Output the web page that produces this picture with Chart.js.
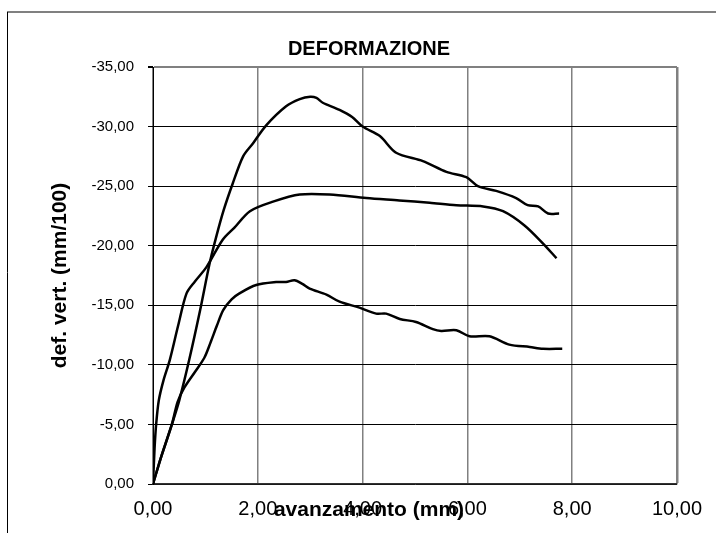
<!DOCTYPE html>
<html>
<head>
<meta charset="utf-8">
<title>DEFORMAZIONE</title>
<script src="https://cdn.jsdelivr.net/npm/chart.js@4.4.0/dist/chart.umd.min.js"></script>
<style>
    html, body { margin: 0; padding: 0; background: #fff; }
    #wrap { width: 716px; height: 533px; }
</style>
</head>
<body>
<div id="wrap"><canvas id="deformChart" width="716" height="533"></canvas></div>
<script>
// --- DATA ---
const X_TICKS = [0, 2, 4, 6, 8, 10];
const Y_TICKS = [0, -5, -10, -15, -20, -25, -30, -35];

// upper curve (peak about -32,5)
const xUpper = [0, 0.15, 0.36, 0.5, 0.69, 0.9, 1.08, 1.21, 1.35, 1.52, 1.72, 1.91, 2.16, 2.54, 2.8, 3.0, 3.12, 3.24, 3.56, 3.8, 4.0, 4.33, 4.64, 5.15, 5.6, 5.98, 6.2, 6.55, 6.93, 7.15, 7.35, 7.54, 7.75];
const yUpper = [0, -2.2, -5, -7, -10.4, -14.6, -18.5, -20.8, -23, -25.2, -27.5, -28.6, -30.1, -31.7, -32.3, -32.5, -32.4, -32.0, -31.4, -30.8, -30.0, -29.2, -27.8, -27.1, -26.2, -25.75, -25.0, -24.6, -24.0, -23.4, -23.3, -22.7, -22.7];

// middle curve (plateau about -24)
const xMiddle = [0, 0.03, 0.06, 0.11, 0.2, 0.32, 0.48, 0.64, 0.8, 1.02, 1.33, 1.55, 1.85, 2.29, 2.8, 3.37, 4.07, 4.7, 5.28, 5.79, 6.3, 6.68, 7.09, 7.44, 7.7];
const yMiddle = [0, -3, -5, -7, -8.7, -10.4, -13.3, -16, -17.0, -18.2, -20.5, -21.5, -22.9, -23.7, -24.3, -24.3, -24.0, -23.8, -23.6, -23.4, -23.3, -22.9, -21.7, -20.2, -18.95];

// lower curve (peak about -17)
const xLower = [0, 0.15, 0.36, 0.47, 0.6, 0.8, 0.98, 1.1, 1.22, 1.34, 1.5, 1.65, 1.97, 2.35, 2.54, 2.7, 2.85, 2.99, 3.31, 3.56, 3.94, 4.26, 4.45, 4.71, 5.02, 5.34, 5.5, 5.79, 6.04, 6.42, 6.8, 7.19, 7.44, 7.81];
const yLower = [0, -2.2, -5, -6.9, -8.1, -9.4, -10.6, -11.9, -13.3, -14.6, -15.5, -16.0, -16.7, -16.95, -16.95, -17.1, -16.8, -16.4, -15.9, -15.3, -14.8, -14.3, -14.3, -13.85, -13.6, -13.0, -12.85, -12.9, -12.4, -12.4, -11.7, -11.5, -11.35, -11.35];

const CHART_TITLE = 'DEFORMAZIONE';
const X_TITLE = 'avanzamento (mm)';
const Y_TITLE = 'def. vert. (mm/100)';
// ------------------------

const FONT = "'Liberation Sans', Arial, sans-serif";

const toPoints = (xs, ys) => xs.map((x, i) => ({ x: x, y: ys[i] }));
const fmt = (v) => v.toFixed(2).replace('.', ',');

function makeSeries(xs, ys) {
    return {
        data: toPoints(xs, ys),
        borderColor: '#000',
        borderWidth: 2.5,
        pointRadius: 0,
        tension: 0.3,
        fill: false
    };
}

// outer frame + free-standing texts (titles are offset from the plot centre in the original)
const framePlugin = {
    id: 'frame',
    beforeDraw(chart) {
        const ctx = chart.ctx;
        ctx.save();
        ctx.fillStyle = '#fff';
        ctx.fillRect(0, 0, chart.width, chart.height);
        ctx.strokeStyle = '#808080';
        ctx.lineWidth = 2;
        ctx.beginPath();
        ctx.moveTo(7, 12);
        ctx.lineTo(chart.width, 12);
        ctx.stroke();
        ctx.strokeStyle = '#000';
        ctx.lineWidth = 1;
        ctx.beginPath();
        ctx.moveTo(7.5, 12);
        ctx.lineTo(7.5, chart.height);
        ctx.stroke();
        ctx.restore();
    },
    afterDraw(chart) {
        const ctx = chart.ctx;
        ctx.save();
        ctx.fillStyle = '#000';
        ctx.textAlign = 'center';
        ctx.textBaseline = 'middle';
        ctx.font = 'bold 20px ' + FONT;
        ctx.fillText(CHART_TITLE, 369, 49);
        ctx.font = 'bold 21px ' + FONT;
        ctx.fillText(X_TITLE, 369, 510);
        ctx.restore();
    }
};

function renderChart() {
    const ctx = document.getElementById('deformChart').getContext('2d');

    new Chart(ctx, {
        type: 'line',
        data: {
            datasets: [
                makeSeries(xUpper, yUpper),
                makeSeries(xMiddle, yMiddle),
                makeSeries(xLower, yLower)
            ]
        },
        options: {
            responsive: false,
            animation: false,
            layout: { padding: { left: 30, right: 39, top: 67, bottom: 0 } },
            plugins: {
                legend: { display: false },
                title: { display: false },
                tooltip: { enabled: false }
            },
            scales: {
                x: {
                    type: 'linear',
                    min: 0,
                    max: 10,
                    afterBuildTicks: (scale) => { scale.ticks = X_TICKS.map(v => ({ value: v })); },
                    afterFit: (scale) => { scale.height = 49; },
                    ticks: {
                        callback: fmt,
                        color: '#000',
                        padding: 13,
                        maxRotation: 0,
                        font: { family: FONT, size: 20 }
                    },
                    grid: {
                        color: '#808080',
                        lineWidth: (c) => (c.tick && c.tick.value === 10 ? 2.5 : 1.5),
                        drawTicks: false
                    },
                    border: { color: '#333', width: 1.5 }
                },
                y: {
                    type: 'linear',
                    min: -35,
                    max: 0,
                    reverse: true,
                    afterBuildTicks: (scale) => { scale.ticks = Y_TICKS.map(v => ({ value: v })); },
                    afterFit: (scale) => { scale.width = 123; },
                    ticks: {
                        callback: fmt,
                        color: '#000',
                        padding: 14,
                        font: { family: FONT, size: 15 }
                    },
                    grid: {
                        color: (c) => (c.tick && c.tick.value === -35 ? '#808080' : '#000'),
                        lineWidth: (c) => (c.tick && c.tick.value === -35 ? 2 : 1),
                        tickLength: 5,
                        tickColor: '#000'
                    },
                    border: { color: '#000', width: 1 },
                    title: {
                        display: true,
                        text: Y_TITLE,
                        color: '#000',
                        padding: { top: 18, bottom: 0 },
                        font: { family: FONT, size: 21, weight: 'bold' }
                    }
                }
            }
        },
        plugins: [framePlugin]
    });
}

document.addEventListener('DOMContentLoaded', renderChart);
</script>
</body>
</html>
